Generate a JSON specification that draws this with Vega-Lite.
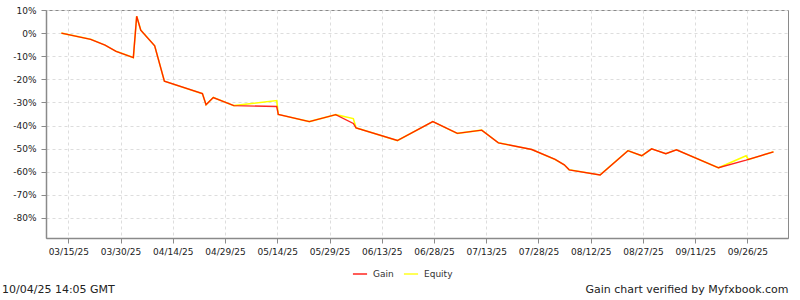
{
  "$schema": "https://vega.github.io/schema/vega-lite/v6.json",
  "width": 742,
  "height": 228,
  "autosize": {"type": "none"},
  "padding": {"left": 46, "top": 10, "right": 12, "bottom": 62},
  "background": "white",
  "config": {
    "font": "DejaVu Sans",
    "view": {"stroke": "#8a8a8a", "strokeWidth": 1},
    "axis": {
      "labelFont": "DejaVu Sans",
      "labelFontSize": 9,
      "labelColor": "#222",
      "domainColor": "#8a8a8a",
      "domainWidth": 1.5,
      "tickColor": "#8a8a8a",
      "tickSize": 5,
      "gridColor": "#dddddd",
      "gridDash": [3, 3],
      "gridWidth": 1
    },
    "legend": {
      "labelFont": "DejaVu Sans",
      "labelFontSize": 9,
      "labelColor": "#333"
    }
  },
  "title": {
    "text": "10/04/25 14:05 GMT",
    "orient": "bottom",
    "anchor": "start",
    "frame": "group",
    "dx": -44,
    "offset": -10,
    "baseline": "top",
    "font": "DejaVu Sans",
    "fontSize": 11,
    "fontWeight": "normal",
    "color": "#222"
  },
  "data": {
    "values": [
      {"date": "2025-03-13T00:00:00Z", "value": 0, "series": "Gain"},
      {"date": "2025-03-21T10:00:00Z", "value": -2.7, "series": "Gain"},
      {"date": "2025-03-25T13:00:00Z", "value": -5.2, "series": "Gain"},
      {"date": "2025-03-28T17:00:00Z", "value": -7.9, "series": "Gain"},
      {"date": "2025-04-02T16:00:00Z", "value": -10.6, "series": "Gain"},
      {"date": "2025-04-03T15:00:00Z", "value": 7.3, "series": "Gain"},
      {"date": "2025-04-04T19:00:00Z", "value": 1.3, "series": "Gain"},
      {"date": "2025-04-08T19:00:00Z", "value": -5.5, "series": "Gain"},
      {"date": "2025-04-11T14:00:00Z", "value": -20.8, "series": "Gain"},
      {"date": "2025-04-22T12:00:00Z", "value": -26.2, "series": "Gain"},
      {"date": "2025-04-23T13:00:00Z", "value": -31.0, "series": "Gain"},
      {"date": "2025-04-25T15:00:00Z", "value": -27.9, "series": "Gain"},
      {"date": "2025-05-01T13:00:00Z", "value": -31.4, "series": "Gain"},
      {"date": "2025-05-13T20:00:00Z", "value": -31.8, "series": "Gain"},
      {"date": "2025-05-14T07:00:00Z", "value": -35.2, "series": "Gain"},
      {"date": "2025-05-23T05:00:00Z", "value": -38.3, "series": "Gain"},
      {"date": "2025-05-30T19:00:00Z", "value": -35.3, "series": "Gain"},
      {"date": "2025-06-04T20:00:00Z", "value": -39.1, "series": "Gain"},
      {"date": "2025-06-05T15:00:00Z", "value": -41.0, "series": "Gain"},
      {"date": "2025-06-17T12:00:00Z", "value": -46.5, "series": "Gain"},
      {"date": "2025-06-27T16:00:00Z", "value": -38.3, "series": "Gain"},
      {"date": "2025-07-04T17:00:00Z", "value": -43.4, "series": "Gain"},
      {"date": "2025-07-11T17:00:00Z", "value": -42.0, "series": "Gain"},
      {"date": "2025-07-16T12:00:00Z", "value": -47.5, "series": "Gain"},
      {"date": "2025-07-26T02:00:00Z", "value": -50.4, "series": "Gain"},
      {"date": "2025-08-01T19:00:00Z", "value": -54.7, "series": "Gain"},
      {"date": "2025-08-04T10:00:00Z", "value": -57.0, "series": "Gain"},
      {"date": "2025-08-05T20:00:00Z", "value": -59.2, "series": "Gain"},
      {"date": "2025-08-14T17:00:00Z", "value": -61.4, "series": "Gain"},
      {"date": "2025-08-22T17:00:00Z", "value": -50.9, "series": "Gain"},
      {"date": "2025-08-26T16:00:00Z", "value": -53.1, "series": "Gain"},
      {"date": "2025-08-29T12:00:00Z", "value": -50.1, "series": "Gain"},
      {"date": "2025-09-02T14:00:00Z", "value": -52.2, "series": "Gain"},
      {"date": "2025-09-05T15:00:00Z", "value": -50.5, "series": "Gain"},
      {"date": "2025-09-17T17:00:00Z", "value": -58.3, "series": "Gain"},
      {"date": "2025-09-25T15:00:00Z", "value": -55.0, "series": "Gain"},
      {"date": "2025-10-03T12:00:00Z", "value": -51.4, "series": "Gain"},

      {"date": "2025-03-13T00:00:00Z", "value": 0, "series": "Equity"},
      {"date": "2025-03-21T10:00:00Z", "value": -2.7, "series": "Equity"},
      {"date": "2025-03-25T13:00:00Z", "value": -5.2, "series": "Equity"},
      {"date": "2025-03-28T17:00:00Z", "value": -7.9, "series": "Equity"},
      {"date": "2025-04-02T16:00:00Z", "value": -10.6, "series": "Equity"},
      {"date": "2025-04-03T15:00:00Z", "value": 7.3, "series": "Equity"},
      {"date": "2025-04-04T19:00:00Z", "value": 1.3, "series": "Equity"},
      {"date": "2025-04-08T19:00:00Z", "value": -5.5, "series": "Equity"},
      {"date": "2025-04-11T14:00:00Z", "value": -20.8, "series": "Equity"},
      {"date": "2025-04-22T12:00:00Z", "value": -26.2, "series": "Equity"},
      {"date": "2025-04-23T13:00:00Z", "value": -31.0, "series": "Equity"},
      {"date": "2025-04-25T15:00:00Z", "value": -27.9, "series": "Equity"},
      {"date": "2025-05-01T13:00:00Z", "value": -31.4, "series": "Equity"},
      {"date": "2025-05-13T20:00:00Z", "value": -29.2, "series": "Equity"},
      {"date": "2025-05-14T07:00:00Z", "value": -35.2, "series": "Equity"},
      {"date": "2025-05-23T05:00:00Z", "value": -38.3, "series": "Equity"},
      {"date": "2025-05-30T19:00:00Z", "value": -35.3, "series": "Equity"},
      {"date": "2025-06-04T20:00:00Z", "value": -37.0, "series": "Equity"},
      {"date": "2025-06-05T15:00:00Z", "value": -41.0, "series": "Equity"},
      {"date": "2025-06-17T12:00:00Z", "value": -46.5, "series": "Equity"},
      {"date": "2025-06-27T16:00:00Z", "value": -38.3, "series": "Equity"},
      {"date": "2025-07-04T17:00:00Z", "value": -43.4, "series": "Equity"},
      {"date": "2025-07-11T17:00:00Z", "value": -42.0, "series": "Equity"},
      {"date": "2025-07-16T12:00:00Z", "value": -47.5, "series": "Equity"},
      {"date": "2025-07-26T02:00:00Z", "value": -50.4, "series": "Equity"},
      {"date": "2025-08-01T19:00:00Z", "value": -54.7, "series": "Equity"},
      {"date": "2025-08-04T10:00:00Z", "value": -57.0, "series": "Equity"},
      {"date": "2025-08-05T20:00:00Z", "value": -59.2, "series": "Equity"},
      {"date": "2025-08-14T17:00:00Z", "value": -61.4, "series": "Equity"},
      {"date": "2025-08-22T17:00:00Z", "value": -50.9, "series": "Equity"},
      {"date": "2025-08-26T16:00:00Z", "value": -53.1, "series": "Equity"},
      {"date": "2025-08-29T12:00:00Z", "value": -50.1, "series": "Equity"},
      {"date": "2025-09-02T14:00:00Z", "value": -52.2, "series": "Equity"},
      {"date": "2025-09-05T15:00:00Z", "value": -50.5, "series": "Equity"},
      {"date": "2025-09-17T17:00:00Z", "value": -58.3, "series": "Equity"},
      {"date": "2025-09-25T15:00:00Z", "value": -53.1, "series": "Equity"},
      {"date": "2025-09-26T07:00:00Z", "value": -54.7, "series": "Equity"},
      {"date": "2025-10-03T12:00:00Z", "value": -51.4, "series": "Equity"}
    ]
  },
  "encoding": {
    "x": {
      "field": "date",
      "type": "temporal",
      "scale": {
        "type": "utc",
        "domain": [
          {"year": 2025, "month": 3, "date": 8, "hours": 14, "utc": true},
          {"year": 2025, "month": 10, "date": 7, "hours": 16, "utc": true}
        ]
      },
      "axis": {
        "values": [
          {"year": 2025, "month": 3, "date": 15, "utc": true},
          {"year": 2025, "month": 3, "date": 30, "utc": true},
          {"year": 2025, "month": 4, "date": 14, "utc": true},
          {"year": 2025, "month": 4, "date": 29, "utc": true},
          {"year": 2025, "month": 5, "date": 14, "utc": true},
          {"year": 2025, "month": 5, "date": 29, "utc": true},
          {"year": 2025, "month": 6, "date": 13, "utc": true},
          {"year": 2025, "month": 6, "date": 28, "utc": true},
          {"year": 2025, "month": 7, "date": 13, "utc": true},
          {"year": 2025, "month": 7, "date": 28, "utc": true},
          {"year": 2025, "month": 8, "date": 12, "utc": true},
          {"year": 2025, "month": 8, "date": 27, "utc": true},
          {"year": 2025, "month": 9, "date": 11, "utc": true},
          {"year": 2025, "month": 9, "date": 26, "utc": true}
        ],
        "format": "%m/%d/%y",
        "labelPadding": 4,
        "labelFlush": false,
        "labelOverlap": false,
        "title": "Gain chart verified by Myfxbook.com",
        "titleAnchor": "end",
        "titleFont": "DejaVu Sans",
        "titleFontSize": 11,
        "titleFontWeight": "normal",
        "titleColor": "#222",
        "titlePadding": 27
      }
    },
    "y": {
      "field": "value",
      "type": "quantitative",
      "scale": {"domain": [-88.7, 10], "nice": false, "zero": false},
      "axis": {
        "values": [10, 0, -10, -20, -30, -40, -50, -60, -70, -80],
        "labelExpr": "datum.value + '%'",
        "labelPadding": 5,
        "title": null
      }
    },
    "color": {
      "field": "series",
      "type": "nominal",
      "scale": {"domain": ["Gain", "Equity"], "range": ["#ff0800", "#ffff00"]},
      "legend": {
        "title": null,
        "orient": "none",
        "legendX": 306,
        "legendY": 256,
        "direction": "horizontal",
        "symbolType": "stroke",
        "symbolSize": 200,
        "symbolStrokeWidth": 1.5,
        "labelOffset": 5,
        "columnPadding": 6,
        "padding": 0
      }
    }
  },
  "layer": [
    {
      "transform": [{"filter": "datum.series === 'Equity'"}],
      "mark": {"type": "line", "strokeWidth": 1.6}
    },
    {
      "transform": [{"filter": "datum.series === 'Gain'"}],
      "mark": {"type": "line", "strokeWidth": 1.4, "opacity": 0.88}
    }
  ]
}
